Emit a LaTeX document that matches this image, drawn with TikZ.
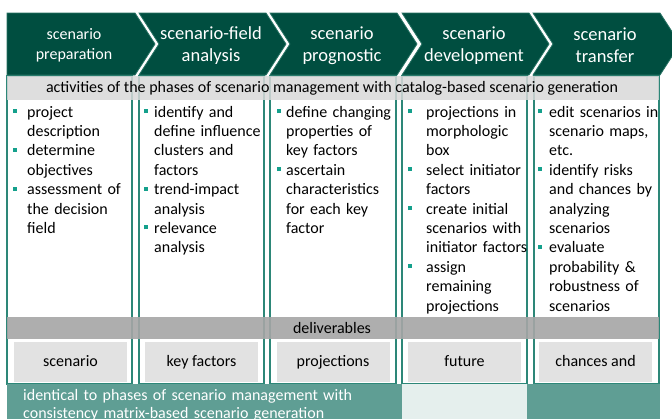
\documentclass[tikz,border=0pt]{standalone}
\usepackage{fontspec}
\setmainfont{Carlito}
\usepackage{xcolor}
\usetikzlibrary{positioning}

\definecolor{chevgreen}{RGB}{0,78,64}
\definecolor{chevedge}{RGB}{40,115,100}
\definecolor{colline}{RGB}{45,135,120}
\definecolor{bulteal}{RGB}{20,160,140}
\definecolor{actgray}{RGB}{217,217,217}
\definecolor{delgray}{RGB}{166,166,166}
\definecolor{boxgray}{RGB}{226,226,226}
\definecolor{bandteal}{RGB}{95,158,148}
\definecolor{palegreen}{RGB}{229,239,237}

\newlength{\bgap}
\newcommand{\bsq}{\leavevmode\llap{\textcolor{bulteal}{\rule[4pt]{4pt}{4pt}}\hspace{\bgap}}}

\tikzset{
  chevron/.style={fill=chevgreen, draw=chevedge, line width=.8pt},
  phase/.style={text=white, align=center, inner sep=0pt, font=\fontsize{18.5}{22}\selectfont},
  colbox/.style={draw=colline, line width=1.2pt, fill=white},
  coltext/.style={anchor=base west, text width=125pt, align=left, inner sep=0pt,
    font=\fontsize{16}{19.4}\selectfont, execute at begin node={\setlength{\bgap}{#1}}},
  bandtext/.style={inner sep=0pt, font=\fontsize{16}{19}\selectfont},
  delbox/.style={fill=boxgray, minimum width=113pt, minimum height=40pt, inner sep=0pt,
    text height=12pt, text depth=2.6pt, font=\fontsize{16}{19}\selectfont}
}

\begin{document}
\begin{tikzpicture}[x=1pt,y=-1pt]
\useasboundingbox (0,0) rectangle (672,418);
\fill[white] (0,0) rectangle (672,418);

% columns of activities
\draw[colbox] (7,76) rectangle (132,384);
\draw[colbox] (139,76) rectangle (264,384);
\draw[colbox] (270,76) rectangle (396,384);
\draw[colbox] (402,76) rectangle (527,384);
\draw[colbox] (534,76) rectangle (659,384);

% bands
\fill[actgray, fill opacity=.85] (7,76) rectangle (659,100);
\node[bandtext] (act) at (332,88) {activities of the phases of scenario management with catalog-based scenario generation};
\fill[delgray, fill opacity=.9] (7,317) rectangle (659,339);
\node[bandtext] (deliv) at (332,328) {deliverables};

% phase chevrons
\draw[chevron] (7,13) -- (135,13) -- (155,44) -- (135,75) -- (7,75) -- cycle;
\draw[chevron] (139,13) -- (266,13) -- (286,44) -- (266,75) -- (139,75) -- (159,44) -- cycle;
\draw[chevron] (270,13) -- (397,13) -- (417,44) -- (397,75) -- (270,75) -- (290,44) -- cycle;
\draw[chevron] (402,13) -- (529,13) -- (549,44) -- (529,75) -- (402,75) -- (422,44) -- cycle;
\draw[chevron] (533,13) -- (660,13) -- (680,44) -- (660,75) -- (533,75) -- (553,44) -- cycle;
\node[phase, font=\fontsize{16}{20}\selectfont] (prep) at (74,45) {scenario\\preparation};
\node[phase] (field) at (211,45.5) {scenario-field\\analysis};
\node[phase] (prog) at (342,45.5) {scenario\\prognostic};
\node[phase] (devel) at (474,45.5) {scenario\\development};
\node[phase] (transfer) at (605,45.5) {scenario\\transfer};

% activities
\node[coltext=10pt] (cprep) at (27,117) {\bsq project\\description\\\bsq determine\\objectives\\\bsq assessment of\\the decision\\field};
\node[coltext=6pt] (cfield) at (154,117) {\bsq identify and\\define influence\\clusters and\\factors\\\bsq trend-impact\\analysis\\\bsq relevance\\analysis};
\node[coltext=5pt] (cprog) at (286,117) {\bsq define changing\\properties of\\key factors\\\bsq ascertain\\characteristics\\for each key\\factor};
\node[coltext=14pt] (cdevel) at (426,117) {\bsq projections in\\morphologic\\box\\\bsq select initiator\\factors\\\bsq create initial\\scenarios with\\initiator factors\\\bsq assign\\remaining\\projections};
\node[coltext=7pt] (ctransfer) at (549,117) {\bsq edit scenarios in\\scenario maps,\\etc.\\\bsq identify risks\\and chances by\\analyzing\\scenarios\\\bsq evaluate\\probability \&\\robustness of\\scenarios};

% deliverables
\node[delbox] (dscen) at (70.5,362) {scenario};
\node[delbox] (dkey) at (201.5,362) {key factors};
\node[delbox] (dproj) at (333,362) {projections};
\node[delbox] (dfut) at (464.5,362) {future};
\node[delbox] (dchance) at (595.5,362) {chances and};

% consistency matrix band
\fill[bandteal] (7,384) rectangle (402,420);
\fill[palegreen] (402,384) rectangle (527,420);
\fill[bandteal] (527,384) rectangle (660,420);
\node[anchor=base west, text width=400pt, align=left, inner sep=0pt, text=white, font=\fontsize{16}{18}\selectfont] (ident) at (23,400) {identical to phases of scenario management with\\consistency matrix-based scenario generation};
\end{tikzpicture}
\end{document}
